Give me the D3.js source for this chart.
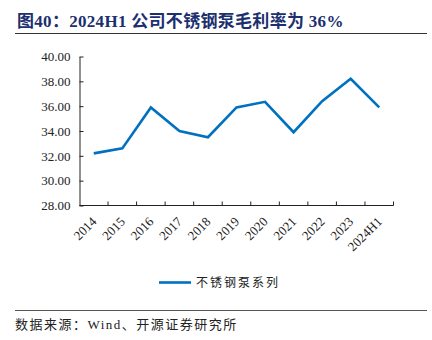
<!DOCTYPE html>
<html>
<head>
<meta charset="utf-8">
<script src="https://cdn.jsdelivr.net/npm/d3@7"></script>
<style>
  html, body { margin: 0; padding: 0; background: #fff; }
  svg { display: block; }
</style>
</head>
<body>
<svg id="chart" width="432" height="340"></svg>
<script>
const categories = ["2014", "2015", "2016", "2017", "2018", "2019", "2020", "2021", "2022", "2023", "2024H1"];
const grossMargin = [32.2, 32.6, 35.9, 34.0, 33.5, 35.9, 36.35, 33.9, 36.4, 38.2, 35.9];
const yTicks = [28, 30, 32, 34, 36, 38, 40];
const seriesName = "不锈钢泵系列";
const titleText = "图40：2024H1 公司不锈钢泵毛利率为 36%";
const sourceText = "数据来源：Wind、开源证券研究所";

const svg = d3.select("#chart");
const serif = "'Liberation Serif', 'Times New Roman', serif";
const cjk = "'Noto Sans CJK SC', sans-serif";

// Title and rule beneath it
svg.append("text")
  .attr("x", 17).attr("y", 27)
  .attr("font-family", serif + ", " + cjk)
  .attr("font-weight", "bold")
  .attr("font-size", 17)
  .attr("letter-spacing", 0.3)
  .attr("fill", "#1C2F6E")
  .text(titleText);
svg.append("line")
  .attr("x1", 15).attr("x2", 427).attr("y1", 33.5).attr("y2", 33.5)
  .attr("stroke", "#333").attr("stroke-width", 1);

const plotLeft = 79.5, plotRight = 393.5, plotTop = 56.5, plotBottom = 205.5;

const x = d3.scaleBand().domain(categories).range([plotLeft, plotRight]);
const y = d3.scaleLinear().domain([28, 40]).range([plotBottom, plotTop]);

// Y axis with inward ticks
const yAxis = svg.append("g")
  .attr("transform", `translate(${plotLeft},0)`)
  .call(d3.axisLeft(y).tickValues(yTicks).tickSize(-4).tickSizeOuter(0).tickPadding(9)
    .tickFormat(d3.format(".2f")));
yAxis.selectAll("text").attr("font-family", serif).attr("font-size", 13).attr("fill", "#222");
yAxis.selectAll("line, path").attr("stroke", "#222");

// X axis: ticks at band boundaries, pointing up
const xAxis = svg.append("g")
  .attr("transform", `translate(0,${plotBottom})`);
xAxis.append("path")
  .attr("d", `M${plotLeft},0H${plotRight}`)
  .attr("stroke", "#222").attr("fill", "none");
const boundaries = categories.map(c => x(c)).concat([plotRight]).slice(1);
xAxis.selectAll("line.tick").data(boundaries).join("line")
  .attr("class", "tick")
  .attr("x1", d => d).attr("x2", d => d)
  .attr("y1", 0).attr("y2", -4)
  .attr("stroke", "#222");
xAxis.selectAll("text").data(categories).join("text")
  .attr("font-family", serif).attr("font-size", 13).attr("fill", "#222")
  .attr("text-anchor", "end")
  .attr("transform", d => `translate(${x(d) + x.bandwidth() / 2 + 3.5},${17}) rotate(-45)`)
  .text(d => d);

// Series line
const line = d3.line()
  .x((d, i) => x(categories[i]) + x.bandwidth() / 2)
  .y(d => y(d));
svg.append("path")
  .datum(grossMargin)
  .attr("d", line)
  .attr("fill", "none")
  .attr("stroke", "#0070C0")
  .attr("stroke-width", 2.6)
  .attr("stroke-linejoin", "miter");

// Legend
svg.append("line")
  .attr("x1", 159).attr("x2", 191).attr("y1", 282.5).attr("y2", 282.5)
  .attr("stroke", "#0070C0").attr("stroke-width", 2.6);
svg.append("text")
  .attr("x", 196).attr("y", 287)
  .attr("font-family", cjk).attr("font-size", 12)
  .attr("letter-spacing", 2)
  .attr("fill", "#222")
  .text(seriesName);

// Source note
svg.append("line")
  .attr("x1", 15).attr("x2", 427).attr("y1", 310.5).attr("y2", 310.5)
  .attr("stroke", "#555").attr("stroke-width", 1);
svg.append("text")
  .attr("x", 15).attr("y", 329)
  .attr("font-family", serif + ", " + cjk).attr("font-size", 13)
  .attr("letter-spacing", 1.5)
  .attr("fill", "#222")
  .text(sourceText);
</script>
</body>
</html>
